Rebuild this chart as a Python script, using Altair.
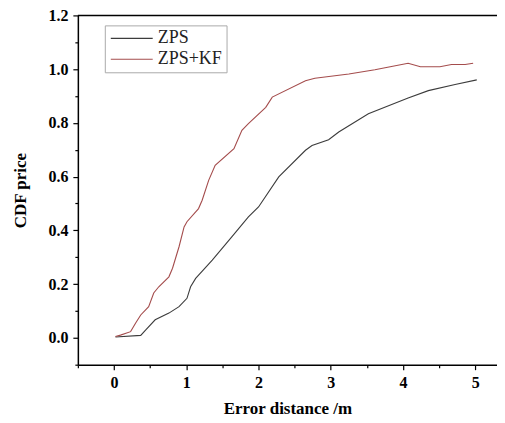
import altair as alt
import pandas as pd

zps_x = [0.02, 0.37, 0.44, 0.57, 0.76, 0.90, 1.01, 1.06, 1.13, 1.36, 1.63, 1.86, 2.0, 2.28, 2.65, 2.74, 2.97, 3.11, 3.52, 4.07, 4.35, 4.72, 5.02]
zps_y = [0.003, 0.009, 0.03, 0.067, 0.092, 0.116, 0.147, 0.19, 0.221, 0.289, 0.376, 0.45, 0.487, 0.599, 0.698, 0.716, 0.737, 0.766, 0.834, 0.893, 0.92, 0.943, 0.96]

kf_x = [0.02, 0.09, 0.23, 0.30, 0.37, 0.48, 0.55, 0.62, 0.76, 0.81, 0.90, 0.97, 1.01, 1.17, 1.22, 1.31, 1.40, 1.66, 1.77, 1.86, 2.10, 2.19, 2.65, 2.78, 3.25, 3.61, 3.84, 4.07, 4.24, 4.51, 4.67, 4.86, 4.97]
kf_y = [0.005, 0.01, 0.023, 0.055, 0.085, 0.116, 0.167, 0.19, 0.227, 0.259, 0.339, 0.413, 0.432, 0.481, 0.512, 0.586, 0.642, 0.704, 0.772, 0.797, 0.858, 0.896, 0.957, 0.966, 0.982, 0.998, 1.01, 1.022, 1.009, 1.009, 1.017, 1.017, 1.022]

series = ["ZPS", "ZPS+KF"]
colors = ["#3c3c3c", "#a44c4c"]
x_ticks = [-0.5, 0, 0.5, 1, 1.5, 2, 2.5, 3, 3.5, 4, 4.5, 5]
y_ticks = [-0.1, 0.0, 0.1, 0.2, 0.3, 0.4, 0.5, 0.6, 0.7, 0.8, 0.9, 1.0, 1.1, 1.2]

rows = []
for i, (x, y) in enumerate(zip(zps_x, zps_y)):
    rows.append({"s": series[0], "x": x, "y": y, "o": i})
for i, (x, y) in enumerate(zip(kf_x, kf_y)):
    rows.append({"s": series[1], "x": x, "y": y, "o": i})
df = pd.DataFrame(rows)

FONT = "Liberation Serif"
xs = alt.Scale(domain=[-0.5, 5.3], nice=False, zero=False)
ys = alt.Scale(domain=[-0.1, 1.2], nice=False, zero=False)

x_minor_test = "abs(datum.value - round(datum.value)) > 0.01"
y_minor_test = "abs(datum.value * 5 - round(datum.value * 5)) > 0.01"

lines = alt.Chart(df).mark_line(strokeWidth=1.1).encode(
    x=alt.X("x:Q", scale=xs, title="Error distance /m",
            axis=alt.Axis(values=x_ticks, grid=False, labelOverlap=False, labelFlush=False,
                          labelExpr=f"({x_minor_test}) ? '' : format(datum.value, 'd')",
                          tickSize={"condition": {"test": x_minor_test, "value": 3}, "value": 5},
                          labelPadding=5, titlePadding=10)),
    y=alt.Y("y:Q", scale=ys, title="CDF price",
            axis=alt.Axis(values=y_ticks, grid=False, labelOverlap=False, labelFlush=False,
                          labelExpr=f"({y_minor_test}) ? '' : format(datum.value, '.1f')",
                          tickSize={"condition": {"test": y_minor_test, "value": 3}, "value": 5},
                          labelPadding=5, titlePadding=18)),
    color=alt.Color("s:N", scale=alt.Scale(domain=series, range=colors), title=None,
                    legend=alt.Legend(orient="none", legendX=27, legendY=10,
                                      symbolType="M-1,0H5", symbolSize=196,
                                      symbolStrokeWidth=1.1,
                                      labelFont=FONT, labelFontSize=18,
                                      labelFontWeight="normal", labelColor="#222",
                                      strokeColor="#aaaaaa", fillColor="white",
                                      padding=4, rowPadding=3, labelOffset=31)),
    order="o:Q",
)

top = alt.Chart(pd.DataFrame({"k": [0]})).mark_rule(color="black", strokeWidth=1.5).encode(
    y=alt.value(0)
)

chart = alt.layer(lines, top).properties(
    width=420, height=350,
    autosize=alt.AutoSizeParams(type="none"),
    padding={"left": 70, "top": 7, "right": 0, "bottom": 56},
).configure_view(stroke=None).configure_axis(
    labelFont=FONT, labelFontSize=16, labelFontWeight="bold", labelColor="black",
    titleFont=FONT, titleFontSize=17, titleFontWeight="bold", titleColor="black",
    domainColor="black", domainWidth=1.5, tickColor="black", tickWidth=1.2,
).configure_legend(labelFont=FONT)

chart.save("out.html", embed_options={"renderer": "svg", "actions": False})
